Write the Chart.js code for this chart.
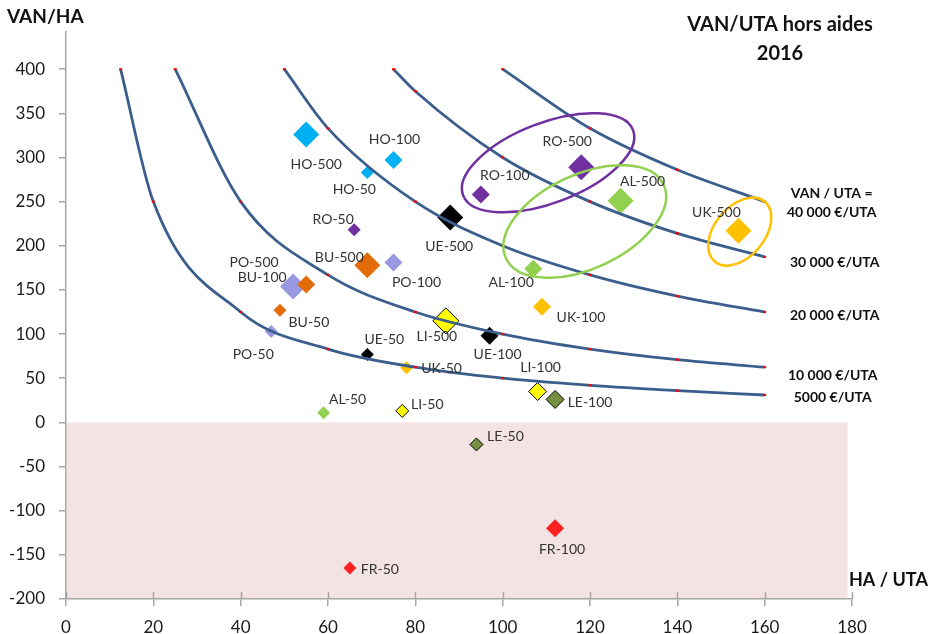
<!DOCTYPE html>
<html>
<head>
<meta charset="utf-8">
<script src="https://cdn.jsdelivr.net/npm/chart.js@4.4.0/dist/chart.umd.min.js"></script>
<style>
  html, body { margin: 0; padding: 0; background: #fff; }
</style>
</head>
<body>
<canvas id="chart" width="930" height="634"></canvas>
<script>
// farms: name, HA/UTA (x) and VAN/HA (y)
const pointNames = ['HO-500', 'HO-100', 'HO-50', 'RO-500', 'RO-100', 'RO-50', 'AL-500', 'AL-100', 'AL-50',
  'UK-500', 'UK-100', 'UK-50', 'UE-500', 'UE-100', 'UE-50', 'LI-500', 'LI-100', 'LI-50', 'LE-100', 'LE-50',
  'FR-100', 'FR-50', 'BU-500', 'BU-100', 'BU-50', 'PO-500', 'PO-100', 'PO-50'];
const haPerUta = [55, 75, 69, 118, 95, 66, 127, 107, 59,
  154, 109, 78, 88, 97, 69, 87, 108, 77, 112, 94,
  112, 65, 69, 55, 49, 52, 75, 47];
const vanPerHa = [326, 297, 283, 289, 258, 218, 251, 174, 11,
  217, 131, 62, 232, 98, 77, 115, 35, 13, 26, -25,
  -120, -165, 178, 156, 127, 154, 181, 103];

// iso VAN/UTA lines
const isoNames = ['5000 €/UTA', '10 000 €/UTA', '20 000 €/UTA', '30 000 €/UTA', '40 000 €/UTA'];
const isoX = [
  [12.5, 20, 40, 60, 80, 100, 120, 140, 160],
  [25, 40, 60, 80, 100, 120, 140, 160],
  [50, 60, 80, 100, 120, 140, 160],
  [75, 80, 100, 120, 140, 160],
  [100, 120, 140, 160]
];
const isoY = [
  [400, 250, 125, 83, 62.5, 50, 42, 36, 31],
  [400, 250, 167, 125, 100, 83, 71, 62.5],
  [400, 333, 250, 200, 167, 143, 125],
  [400, 375, 300, 250, 214, 187.5],
  [400, 333, 286, 250]
];

const xTicks = [0, 20, 40, 60, 80, 100, 120, 140, 160, 180];

// styles
const countryOrder = ['HO', 'RO', 'AL', 'UK', 'UE', 'LI', 'LE', 'FR', 'BU', 'PO'];
const countryColors = {
  HO: '#00b0f0', RO: '#7030a0', AL: '#92d050', UK: '#ffc000', UE: '#000000',
  LI: '#ffff00', LE: '#77903f', FR: '#ff2020', BU: '#e36c09', PO: '#9999e2'
};
const outlined = ['LI', 'LE'];
const sizeByTier = { '50': 6.5, '100': 9, '500': 13 };
// label offsets in pixels from the marker centre
const labelDx = [10, 1, -13, -14, 24, -21, 22, -22, 24, -22, 39, 35, -1, 8, 17, -9, 3, 25, 35, 29, 7, 30, -28, -44, 29, -39, 23, -18];
const labelDy = [30, -21, 17, -26, -19, -10, -19, 14, -13, -18, 11, 1, 29, 19, -15, 16, -24, -6, 3, -8, 21, 1, -8, -7, 12, -24, 20, 23];
const isoLabelDx = [68, 68, 70, 70, 67];
const isoLabelDy = [2, 8, 3, 6, 11];
const rings = [
  { cx: 110.4, cy: 294, a: 91, b: 40, rot: -21, color: '#7030a0' },
  { cx: 118.8, cy: 227.5, a: 87, b: 47, rot: -25, color: '#92d050' },
  { cx: 154.3, cy: 216, a: 39, b: 25, rot: -50, color: '#ffc000' }
];
const axisGray = '#a6a6a6';
const curveColor = '#3b5e8c';
const FONT = 'Lato, "Open Sans", sans-serif';

const datasets = [];

isoX.forEach((xs, i) => {
  datasets.push({
    label: isoNames[i],
    data: xs.map((x, j) => ({ x: x, y: isoY[i][j] })),
    showLine: true,
    borderColor: curveColor,
    borderWidth: 2.8,
    cubicInterpolationMode: 'monotone',
    pointStyle: 'line',
    pointRadius: 1.5,
    pointBorderColor: '#ff0000',
    pointBorderWidth: 2,
    order: 0
  });
});

countryOrder.forEach(c => {
  const idx = pointNames.map((n, i) => i).filter(i => pointNames[i].split('-')[0] === c);
  datasets.push({
    label: c,
    names: idx.map(i => pointNames[i]),
    offsets: idx.map(i => [labelDx[i], labelDy[i]]),
    data: idx.map(i => ({ x: haPerUta[i], y: vanPerHa[i] })),
    pointStyle: 'rectRot',
    pointRadius: idx.map(i => sizeByTier[pointNames[i].split('-')[1]]),
    backgroundColor: countryColors[c],
    borderColor: outlined.includes(c) ? '#000000' : countryColors[c],
    borderWidth: outlined.includes(c) ? 1 : 0,
    showLine: false,
    order: 1
  });
});

const pinkZone = {
  id: 'pinkZone',
  beforeDatasetsDraw(chart) {
    const { ctx, scales: { x, y } } = chart;
    ctx.save();
    ctx.fillStyle = '#f3e3e3';
    const left = x.getPixelForValue(0) + 1;
    const right = x.getPixelForValue(179);
    const top = y.getPixelForValue(0);
    const bottom = y.getPixelForValue(-200) - 1;
    ctx.fillRect(left, top, right - left, bottom - top);
    // inner half of the x ticks
    ctx.strokeStyle = axisGray;
    ctx.lineWidth = 1.5;
    xTicks.forEach(v => {
      const px = Math.round(x.getPixelForValue(v)) + 0.5;
      ctx.beginPath();
      ctx.moveTo(px, bottom - 6);
      ctx.lineTo(px, bottom + 1);
      ctx.stroke();
    });
    ctx.restore();
  }
};

const annotations = {
  id: 'annotations',
  afterDatasetsDraw(chart) {
    const { ctx, scales: { x, y } } = chart;
    ctx.save();
    // rings
    rings.forEach(r => {
      ctx.beginPath();
      ctx.ellipse(x.getPixelForValue(r.cx), y.getPixelForValue(r.cy), r.a, r.b, r.rot * Math.PI / 180, 0, Math.PI * 2);
      ctx.strokeStyle = r.color;
      ctx.lineWidth = 2.5;
      ctx.stroke();
    });
    // farm labels
    ctx.font = '14px ' + FONT;
    ctx.fillStyle = '#333';
    ctx.textAlign = 'center';
    ctx.textBaseline = 'middle';
    chart.data.datasets.forEach((ds, di) => {
      if (!ds.names) return;
      const meta = chart.getDatasetMeta(di);
      meta.data.forEach((pt, j) => {
        ctx.fillText(ds.names[j], pt.x + ds.offsets[j][0], pt.y + ds.offsets[j][1]);
      });
    });
    // iso line labels
    ctx.font = 'bold 14px ' + FONT;
    ctx.fillStyle = '#111';
    isoNames.forEach((name, i) => {
      const meta = chart.getDatasetMeta(i);
      const last = meta.data[meta.data.length - 1];
      const lx = last.x + isoLabelDx[i];
      const ly = last.y + isoLabelDy[i];
      ctx.fillText(name, lx, ly);
      if (i === isoNames.length - 1) ctx.fillText('VAN / UTA =', lx, ly - 19);
    });
    ctx.restore();
  },
  afterDraw(chart) {
    const { ctx } = chart;
    ctx.save();
    ctx.fillStyle = '#fff';
    ctx.fillRect(0, 0, 120, 31);
    ctx.fillStyle = '#111';
    ctx.textBaseline = 'middle';
    ctx.textAlign = 'left';
    ctx.font = 'bold 19px ' + FONT;
    ctx.fillText('VAN/HA', 7, 17);
    ctx.font = 'bold 18px ' + FONT;
    ctx.fillText('HA / UTA', 849, 580);
    ctx.textAlign = 'center';
    ctx.font = 'bold 20px ' + FONT;
    ctx.fillText('VAN/UTA hors aides', 780, 25);
    ctx.fillText('2016', 780, 54);
    ctx.restore();
  }
};

new Chart(document.getElementById('chart'), {
  type: 'scatter',
  data: { datasets: datasets },
  options: {
    responsive: false,
    animation: false,
    events: [],
    layout: { padding: { top: 25, right: 78, bottom: 0, left: 0 } },
    plugins: { legend: { display: false }, tooltip: { enabled: false } },
    scales: {
      x: {
        type: 'linear',
        min: 0,
        max: 180,
        afterBuildTicks: s => { s.ticks = xTicks.map(v => ({ value: v })); },
        ticks: { font: { family: FONT, size: 17 }, color: '#1a1a1a', padding: 11, maxRotation: 0 },
        grid: { drawOnChartArea: false, tickLength: 7, color: axisGray, lineWidth: 1.5 },
        border: { color: axisGray, width: 1.5 },
        afterFit: s => { s.height = 35; }
      },
      y: {
        min: -200,
        max: 450,
        ticks: { stepSize: 50, font: { family: FONT, size: 17 }, color: '#1a1a1a', padding: 14 },
        grid: { drawOnChartArea: false, tickLength: 7, color: axisGray, lineWidth: 1.5 },
        border: { color: axisGray, width: 1.5 },
        afterFit: s => { s.width = 66; }
      }
    }
  },
  plugins: [pinkZone, annotations]
});
</script>
</body>
</html>
